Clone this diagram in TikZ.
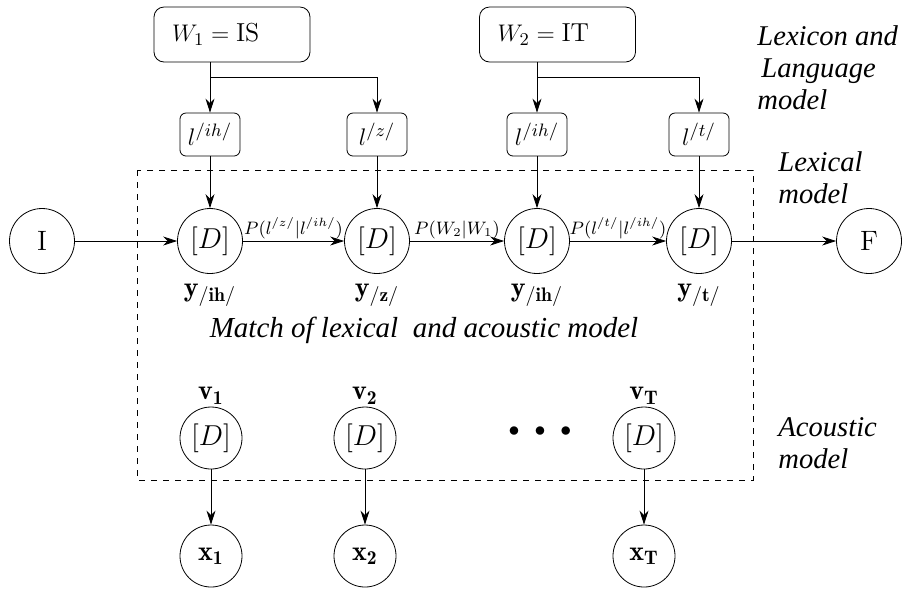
\documentclass[tikz,border=0pt]{standalone}
\usepackage{amsmath}
\usepackage{fontspec}
\newfontfamily\timesfont{Liberation Serif}
\usetikzlibrary{arrows.meta, positioning}

\begin{document}
\begin{tikzpicture}[x=0.5pt,y=-0.5pt,
	state/.style={circle,draw,minimum size=32.5pt,inner sep=0pt,
		font=\fontsize{14}{16}\selectfont},
	obs/.style={circle,draw,minimum size=31pt,inner sep=0pt,
		font=\fontsize{14}{16}\selectfont},
	word/.style={rectangle,draw,rounded corners=5pt,minimum width=78pt,
		minimum height=27.5pt,text width=60pt,inner xsep=9pt,align=left,
		font=\fontsize{13}{15}\selectfont},
	lex/.style={rectangle,draw,rounded corners=3pt,minimum width=30pt,
		minimum height=21.5pt,inner sep=1pt,font=\fontsize{13}{15}\selectfont},
	prob/.style={above,inner sep=1pt,font=\fontsize{9}{10}\selectfont},
	var/.style={inner sep=1pt,font=\fontsize{14}{16}\selectfont},
	note/.style={align=left,anchor=west,inner sep=0pt,
		font=\timesfont\itshape\fontsize{14.3}{16}\selectfont},
	arrow/.style={-{Stealth[length=7pt,width=4.5pt]}},
	]
	\useasboundingbox (0,0) rectangle (904,591);
	
	% Lexicon and language model
	\node[word] (w1) at (232,34.5) {$W_1 = \mathrm{IS}$};
	\node[word] (w2) at (557.5,34.5) {$W_2 = \mathrm{IT}$};
	\node[lex] (lih1) at (210,134.5) {$l^{/ih/}$};
	\node[lex] (lz) at (377,134.5) {$l^{/z/}$};
	\node[lex] (lih2) at (537,134.5) {$l^{/ih/}$};
	\node[lex] (lt) at (699,134.5) {$l^{/t/}$};
	\coordinate (br1) at (210,77);
	\coordinate (br2) at (537,77);
	\draw (w1.south -| br1) -- (br1);
	\draw[arrow] (br1) -- (lih1);
	\draw[arrow] (br1) -| (lz);
	\draw (w2.south -| br2) -- (br2);
	\draw[arrow] (br2) -- (lih2);
	\draw[arrow] (br2) -| (lt);
	
	% Lexical model
	\draw[dashed] (137,170) rectangle (753,480);
	\node[state] (init) at (42,241) {I};
	\node[state] (d1) at (210,241) {$[D]$};
	\node[state] (d2) at (377,241) {$[D]$};
	\node[state] (d3) at (537,241) {$[D]$};
	\node[state] (d4) at (699,241) {$[D]$};
	\node[state] (fin) at (869,241) {F};
	\draw[arrow] (lih1) -- (d1);
	\draw[arrow] (lz) -- (d2);
	\draw[arrow] (lih2) -- (d3);
	\draw[arrow] (lt) -- (d4);
	\draw[arrow] (init) -- (d1);
	\draw[arrow] (d1) -- node[prob] {$P(l^{/z/}|l^{/ih/})$} (d2);
	\draw[arrow] (d2) -- node[prob] {$P(W_2|W_1)$} (d3);
	\draw[arrow] (d3) -- node[prob] {$P(l^{/t/}|l^{/ih/})$} (d4);
	\draw[arrow] (d4) -- (fin);
	\node[var, below=4pt of d1] (y1) {$\mathbf{y}_{/\mathbf{ih}/}$};
	\node[var, below=4pt of d2] (y2) {$\mathbf{y}_{/\mathbf{z}/}$};
	\node[var, below=4pt of d3] (y3) {$\mathbf{y}_{/\mathbf{ih}/}$};
	\node[var, below=4pt of d4] (y4) {$\mathbf{y}_{/\mathbf{t}/}$};
	
	\node[font=\timesfont\itshape\fontsize{14.5}{16}\selectfont] (match) at (424,330)
	{Match of lexical\ \ and acoustic model};
	
	% Acoustic model
	\node[obs] (v1) at (211,438) {$[D]$};
	\node[obs] (v2) at (365,438) {$[D]$};
	\node[obs] (vT) at (644,438) {$[D]$};
	\node[var, above=0pt of v1] (v1lab) {$\mathbf{v_1}$};
	\node[var, above=0pt of v2] (v2lab) {$\mathbf{v_2}$};
	\node[var, above=0pt of vT] (vTlab) {$\mathbf{v_T}$};
	\node[var, font=\fontsize{11}{12}\selectfont] (dots) at (540,432)
	{$\bullet\hspace{5pt}\bullet\hspace{5pt}\bullet$};
	\node[obs] (x1) at (211,556) {$\mathbf{x_1}$};
	\node[obs] (x2) at (365,556) {$\mathbf{x_2}$};
	\node[obs] (xT) at (644,556) {$\mathbf{x_T}$};
	\draw[arrow] (v1) -- (x1);
	\draw[arrow] (v2) -- (x2);
	\draw[arrow] (vT) -- (xT);
	
	% Side notes
	\node[note] (lexlm) at (757,68) {Lexicon and\\\hspace{2pt}Language\\model};
	\node[note] (lexm) at (778,178) {Lexical\\model};
	\node[note] (acm) at (778,443) {Acoustic\\model};
\end{tikzpicture}
\end{document}
